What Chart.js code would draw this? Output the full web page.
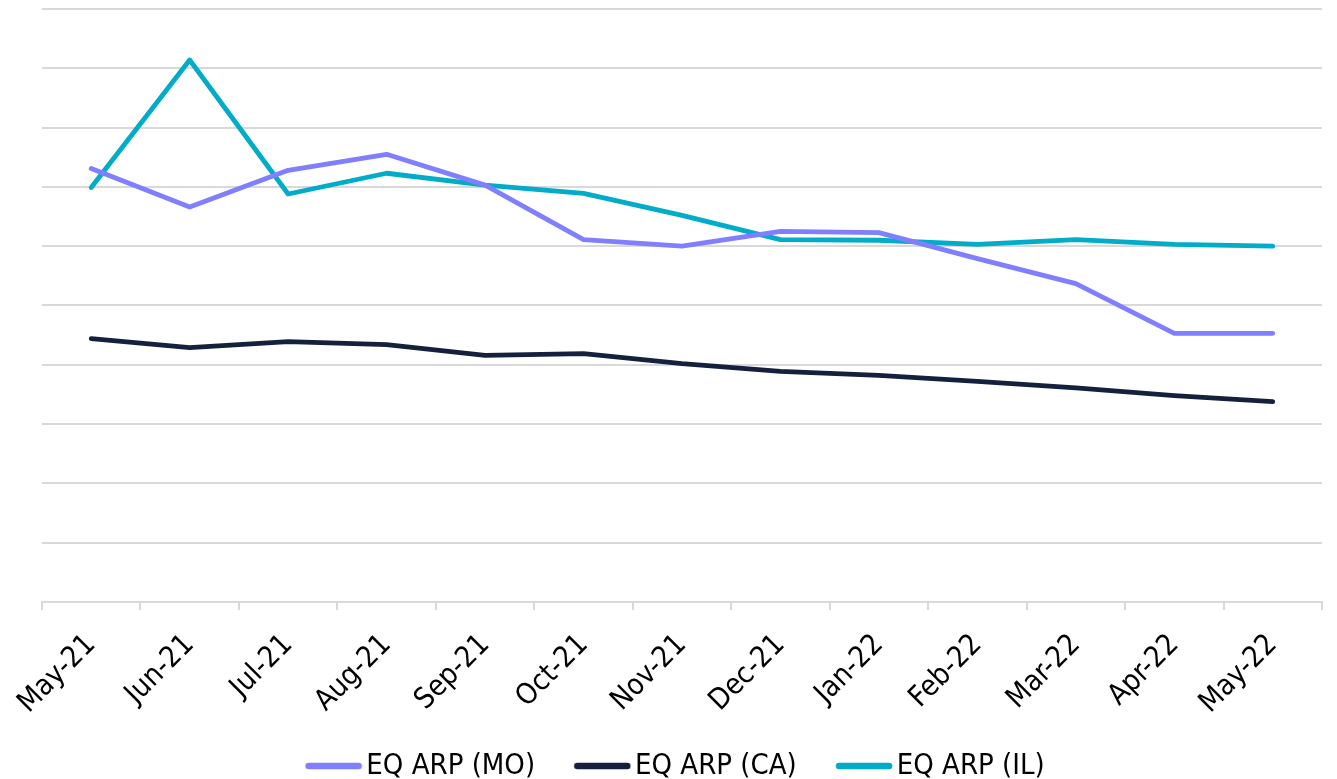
<!DOCTYPE html>
<html>
<head>
<meta charset="utf-8">
<script src="https://cdn.jsdelivr.net/npm/chart.js@4.4.0/dist/chart.umd.min.js"></script>
<style>
html,body{margin:0;padding:0;background:#fff;}
</style>
</head>
<body>
<canvas id="c" width="1337" height="779"></canvas>
<script>
const categories = ["May-21","Jun-21","Jul-21","Aug-21","Sep-21","Oct-21","Nov-21","Dec-21","Jan-22","Feb-22","Mar-22","Apr-22","May-22"];
const seriesMO = [7.31,6.66,7.28,7.55,7.03,6.11,6.00,6.25,6.23,5.79,5.37,4.53,4.53];
const seriesCA = [4.44,4.29,4.39,4.34,4.16,4.19,4.02,3.89,3.82,3.72,3.61,3.48,3.38];
const seriesIL = [6.99,9.14,6.88,7.23,7.03,6.89,6.52,6.11,6.10,6.03,6.11,6.03,6.00];
const seriesNames = ["EQ ARP (MO)","EQ ARP (CA)","EQ ARP (IL)"];
const yMin = 0, yMax = 10, yStep = 1;

const FONT = 'DejaVu Sans Condensed';
const colors = ["#7f7fff","#14213d","#00acc8"];

function legendMarker(color){
  const cv = document.createElement('canvas');
  cv.width = 94; cv.height = 10;
  const g = cv.getContext('2d');
  g.strokeStyle = color; g.lineWidth = 6.5; g.lineCap = 'round';
  g.beginPath(); g.moveTo(40,5); g.lineTo(90,5); g.stroke();
  return cv;
}
const markers = colors.map(legendMarker);

const legendShift = {
  id: 'legendShift',
  afterLayout(chart) {
    const lg = chart.legend;
    if (lg) { lg.left -= 20; lg.right -= 20; }
  }
};

new Chart(document.getElementById('c'), {
  type: 'line',
  data: {
    labels: categories,
    datasets: [seriesMO, seriesCA, seriesIL].map((d,i)=>({
      label: seriesNames[i],
      data: d,
      borderColor: colors[i],
      backgroundColor: colors[i],
      borderWidth: 4.8,
      pointRadius: 0,
      tension: 0,
      borderCapStyle: 'round',
      borderJoinStyle: 'round'
    }))
  },
  plugins: [legendShift],
  options: {
    responsive: false,
    animation: false,
    layout: { padding: { left: 42, right: 15, top: 9, bottom: -11.5 } },
    scales: {
      x: {
        offset: true,
        grid: { display: true, drawOnChartArea: false, drawTicks: true, tickLength: 8, color: '#d9d9d9', lineWidth: 2, offset: true },
        border: { display: true, color: '#d9d9d9', width: 2 },
        ticks: { color: '#000', font: { family: FONT, size: 29 }, maxRotation: 45, minRotation: 45, padding: 18 }
      },
      y: {
        min: yMin, max: yMax,
        ticks: { display: false, stepSize: yStep },
        grid: { color: '#d9d9d9', lineWidth: 2, drawTicks: false },
        border: { display: false }
      }
    },
    plugins: {
      legend: {
        position: 'bottom',
        labels: {
          color: '#000',
          font: { family: FONT, size: 29 },
          usePointStyle: true,
          pointStyleWidth: 72.5,
          padding: 13,
          generateLabels: (chart) => chart.data.datasets.map((ds,i)=>({
            text: ds.label, fillStyle: ds.borderColor, strokeStyle: ds.borderColor,
            lineWidth: 0, pointStyle: markers[i], datasetIndex: i, hidden: false
          }))
        }
      },
      tooltip: { enabled: false }
    }
  }
});
</script>
</body>
</html>
